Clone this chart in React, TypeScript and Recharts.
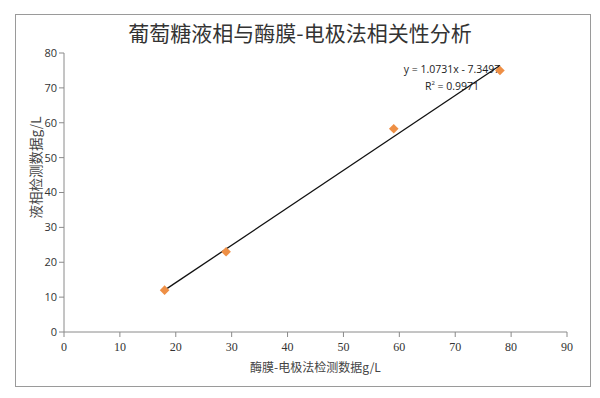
import { ScatterChart, Scatter, XAxis, YAxis, Label } from 'recharts';

const enzymeValues = [18, 29, 59, 78];
const hplcValues = [12, 23, 58.3, 75];
const trendX = [18, 78];
const trendY = [12.0, 76.4];
const xTicks = [0, 10, 20, 30, 40, 50, 60, 70, 80, 90];
const yTicks = [0, 10, 20, 30, 40, 50, 60, 70, 80];

const points = enzymeValues.map((x, i) => ({ x, y: hplcValues[i] }));
const trend = trendX.map((x, i) => ({ x, y: trendY[i] }));

function Diamond(props: any) {
  const { cx, cy } = props;
  const r = 4.8;
  return (
    <polygon
      points={`${cx},${cy - r} ${cx + r},${cy} ${cx},${cy + r} ${cx - r},${cy}`}
      fill="#EE8F45"
    />
  );
}

function SerifTick(props: any) {
  const { x, y, payload } = props;
  return (
    <text
      x={x}
      y={y + 12}
      textAnchor="middle"
      fill="#333"
      fontSize={12}
      style={{ fontFamily: '"Liberation Serif", "DejaVu Serif", serif' }}
    >
      {payload.value}
    </text>
  );
}

export default function App() {
  return (
    <div style={{ position: 'fixed', left: 0, top: 0, width: 600, height: 398, background: '#fff' }}>
      <div
        style={{
          position: 'absolute', left: 15, top: 14, width: 574, height: 371,
          border: '1px solid #9a9a9a',
        }}
      />
      <div
        style={{
          position: 'absolute', left: 0, top: 17, width: 600, textAlign: 'center',
          fontFamily: '"Noto Sans CJK SC", sans-serif', fontSize: 21, color: '#333',
        }}
      >
        葡萄糖液相与酶膜-电极法相关性分析
      </div>
      <div
        style={{
          position: 'absolute', left: 390, top: 62, width: 124, textAlign: 'center',
          fontFamily: '"Open Sans", sans-serif', fontSize: 10.5, color: '#222', lineHeight: '14px',
        }}
      >
        <div>y = 1.0731x - 7.3497</div>
        <div>R<sup style={{ fontSize: 6 }}>2</sup> = 0.9971</div>
      </div>
      <ScatterChart width={600} height={398} margin={{ top: 53, right: 33, bottom: 36, left: 34 }}>
        <XAxis
          type="number"
          dataKey="x"
          domain={[0, 90]}
          ticks={xTicks}
          interval={0}
          height={30}
          stroke="#8a8a8a"
          tickSize={5}
          tick={<SerifTick />}
        >
          <Label
            value="酶膜-电极法检测数据g/L"
            position="bottom"
            offset={1}
            style={{ fill: '#444', fontSize: 12, fontFamily: '"Noto Sans CJK SC", sans-serif' }}
          />
        </XAxis>
        <YAxis
          type="number"
          dataKey="y"
          domain={[0, 80]}
          ticks={yTicks}
          interval={0}
          width={30}
          stroke="#8a8a8a"
          tickSize={5}
          tick={{ fill: '#333', fontSize: 11, fontFamily: '"Open Sans", sans-serif' }}
        >
          <Label
            value="液相检测数据g/L"
            angle={-90}
            position="left"
            offset={-2}
            dy={-25}
            style={{ fill: '#444', fontSize: 13.5, fontFamily: '"Noto Sans CJK SC", sans-serif', textAnchor: 'middle' }}
          />
        </YAxis>
        <Scatter
          data={trend}
          line={{ stroke: '#111', strokeWidth: 1.3 }}
          shape={() => null}
          isAnimationActive={false}
        />
        <Scatter data={points} shape={<Diamond />} isAnimationActive={false} />
      </ScatterChart>
    </div>
  );
}
